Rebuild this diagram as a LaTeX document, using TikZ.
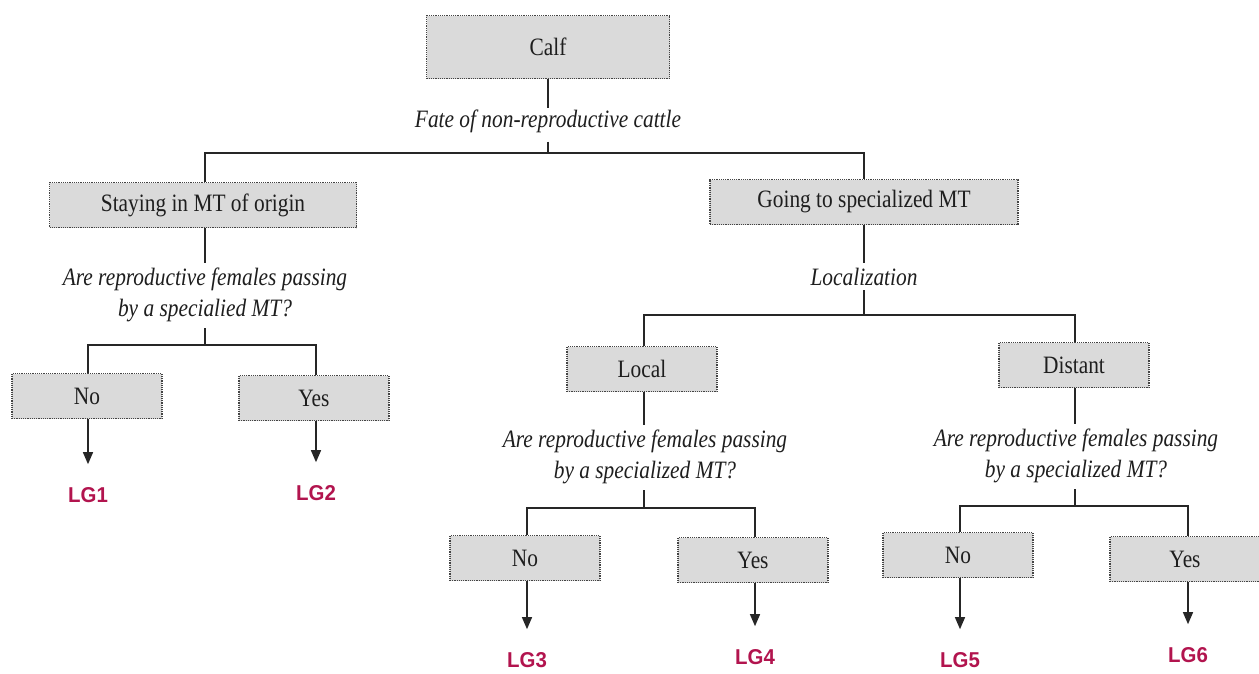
\documentclass[tikz,border=0pt]{standalone}
\usepackage{fontspec}
\setmainfont{Liberation Serif}[FakeStretch=0.855]
\newfontfamily\lgfont{Liberation Sans}[FakeStretch=0.95]
\usetikzlibrary{arrows.meta}
\definecolor{boxfill}{HTML}{DADADA}
\definecolor{boxline}{HTML}{444444}
\definecolor{lgred}{HTML}{B2144E}
\definecolor{txt}{HTML}{1E1E1E}
\begin{document}
\begin{tikzpicture}[x=1pt,y=-1pt,
  box/.style={draw=boxline, densely dotted, line width=1.2pt, fill=boxfill,
    minimum width=150pt, minimum height=45pt, inner sep=0pt,
    font=\fontsize{25}{29}\selectfont, text=txt},
  qtext/.style={align=center, inner sep=1pt, text=txt,
    font=\fontsize{25}{31.5}\selectfont\itshape},
  lg/.style={inner sep=0pt, text=lgred, font=\fontsize{21.5}{24}\selectfont\lgfont\bfseries},
  conn/.style={line width=1.3pt, draw=black!85},
  arr/.style={conn, -{Triangle[length=12pt,width=10pt]}, shorten >=23pt}
]
\useasboundingbox (0,0) rectangle (1259,673);

% level 0
\node[box, minimum width=243pt, minimum height=63pt] (calf) at (548,47) {Calf};
\node[qtext] (fate) at (548,121) {Fate of non-reproductive cattle};
\coordinate (j0) at (548,153);

% level 1
\node[box, minimum width=307pt] (stay) at (203,205) {Staying in MT of origin};
\node[box, minimum width=308pt] (going) at (864,202) {Going to specialized MT};

% left branch
\node[qtext] (q1) at (205,295) {Are reproductive females passing\\by a specialied MT?};
\coordinate (j1) at (205,345);
\node[box] (no1) at (87,396) {No};
\node[box] (yes1) at (314,398) {Yes};
\node[lg] (lg1) at (88,495) {LG1};
\node[lg] (lg2) at (316,493) {LG2};

% right branch
\node[qtext] (loc) at (864,277) {Localization};
\coordinate (j2) at (864,315);
\node[box] (local) at (642,369) {Local};
\node[box] (distant) at (1074,365) {Distant};

\node[qtext] (q2) at (645,457) {Are reproductive females passing\\by a specialized MT?};
\coordinate (j3) at (644,508);
\node[box] (no2) at (525,558) {No};
\node[box] (yes2) at (753,560) {Yes};
\node[lg] (lg3) at (527,660) {LG3};
\node[lg] (lg4) at (755,657) {LG4};

\node[qtext] (q3) at (1076,456) {Are reproductive females passing\\by a specialized MT?};
\coordinate (j4) at (1075,506);
\node[box] (no3) at (958,555) {No};
\node[box] (yes3) at (1185,559) {Yes};
\node[lg] (lg5) at (960,660) {LG5};
\node[lg] (lg6) at (1188,655) {LG6};

% connectors
\draw[conn] (calf.south) -- (calf.south |- fate.north);
\draw[conn] ([yshift=-8pt]j0 |- fate.south) -- (j0);
\draw[conn] (stay.north -| j1) |- (j0) -| (going.north -| j2);

\draw[conn] (stay.south -| j1) -- ([yshift=4pt]j1 |- q1.north);
\draw[conn] ([yshift=-5pt]j1 |- q1.south) -- (j1);
\draw[conn] (no1.north -| lg1) |- (j1) -| (yes1.north -| lg2);
\draw[arr] (no1.south -| lg1) -- (lg1.north);
\draw[arr] (yes1.south -| lg2) -- (lg2.north);

\draw[conn] (going.south -| j2) -- ([yshift=4pt]j2 |- loc.north);
\draw[conn] ([yshift=-3pt]j2 |- loc.south) -- (j2);
\draw[conn] (local.north -| j3) |- (j2) -| (distant.north -| j4);

\draw[conn] (local.south -| j3) -- ([yshift=4pt]j3 |- q2.north);
\draw[conn] ([yshift=-5pt]j3 |- q2.south) -- (j3);
\draw[conn] (no2.north -| lg3) |- (j3) -| (yes2.north -| lg4);
\draw[arr] (no2.south -| lg3) -- (lg3.north);
\draw[arr] (yes2.south -| lg4) -- (lg4.north);

\draw[conn] (distant.south -| j4) -- ([yshift=4pt]j4 |- q3.north);
\draw[conn] ([yshift=-5pt]j4 |- q3.south) -- (j4);
\draw[conn] (no3.north -| lg5) |- (j4) -| (yes3.north -| lg6);
\draw[arr] (no3.south -| lg5) -- (lg5.north);
\draw[arr] (yes3.south -| lg6) -- (lg6.north);
\end{tikzpicture}
\end{document}
